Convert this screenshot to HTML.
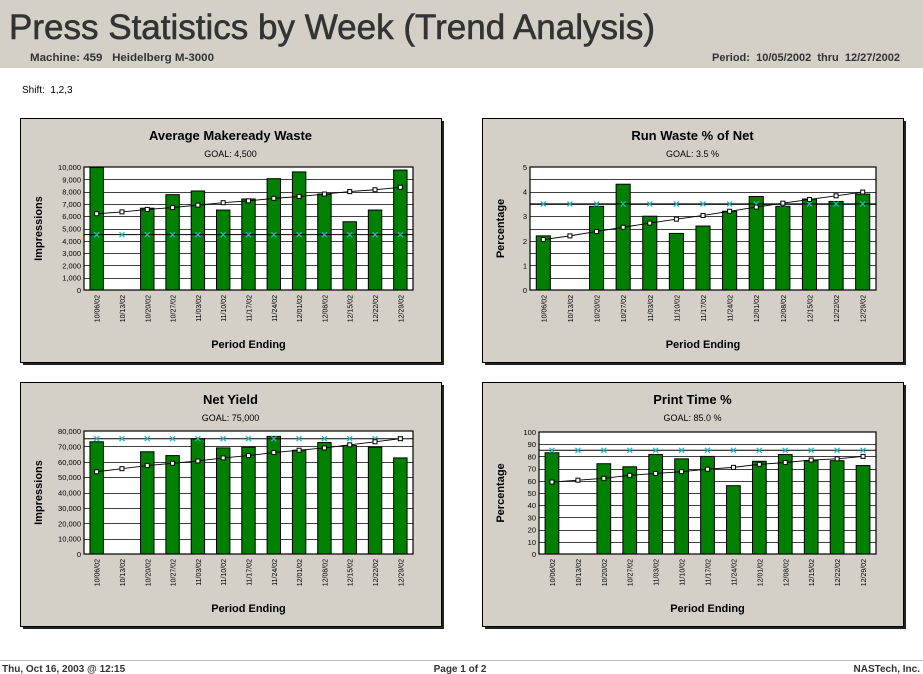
<!DOCTYPE html>
<html><head><meta charset="utf-8"><style>
body{margin:0;background:#fff;}
svg{display:block;font-family:"Liberation Sans",Arial,sans-serif;}
</style></head><body>
<svg id="page" width="923" height="674" viewBox="0 0 923 674" xmlns="http://www.w3.org/2000/svg">
<rect x="0" y="0" width="923" height="68" fill="#d4d0c8"/>
<text x="9" y="39" font-size="35" fill="#333" stroke="#333" stroke-width="0.6" textLength="646" lengthAdjust="spacingAndGlyphs">Press Statistics by Week (Trend Analysis)</text>
<text x="30" y="61" font-size="11" font-weight="bold" fill="#333" textLength="184" lengthAdjust="spacingAndGlyphs">Machine: 459 &#160;&#160;Heidelberg M-3000</text>
<text x="900" y="61" font-size="11" font-weight="bold" fill="#333" text-anchor="end" textLength="188" lengthAdjust="spacingAndGlyphs">Period: &#160;10/05/2002 &#160;thru &#160;12/27/2002</text>
<text x="22" y="93" font-size="10" fill="#000">Shift: &#160;1,2,3</text>
<line x1="0" y1="660.5" x2="923" y2="660.5" stroke="#bbb"/>
<text x="2" y="672" font-size="10" font-weight="bold" fill="#333">Thu, Oct 16, 2003 @ 12:15</text>
<text x="460" y="672" font-size="10" font-weight="bold" fill="#333" text-anchor="middle">Page 1 of 2</text>
<text x="920" y="672" font-size="10" font-weight="bold" fill="#333" text-anchor="end">NASTech, Inc.</text>
<g id="charts"></g>
</svg>
<script>
const categories = ["10/06/02","10/13/02","10/20/02","10/27/02","11/03/02","11/10/02","11/17/02","11/24/02","12/01/02","12/08/02","12/15/02","12/22/02","12/29/02"];
const makereadyBars = [9950,null,6650,7750,8050,6500,7400,9050,9600,7800,5550,6500,9750];
const makereadyTrend = [6200,6350,6550,6700,6900,7100,7250,7450,7600,7800,8000,8150,8350];
const makereadyGoal = 4500;
const makereadyTicks = ["0","1,000","2,000","3,000","4,000","5,000","6,000","7,000","8,000","9,000","10,000"];
const runWasteBars = [2.2,null,3.4,4.3,3.0,2.3,2.6,3.2,3.8,3.4,3.7,3.6,3.9];
const runWasteTrend = [2.05,2.2,2.38,2.55,2.72,2.88,3.03,3.2,3.37,3.53,3.68,3.83,3.98];
const runWasteGoal = 3.5;
const runWasteTicks = ["0","1","2","3","4","5"];
const netYieldBars = [73000,null,66500,64000,75000,69000,69500,76500,67500,72500,70500,69500,62500];
const netYieldTrend = [53500,55500,57500,59000,60500,62500,64000,66000,67500,69000,71000,73000,75000];
const netYieldGoal = 75000;
const netYieldTicks = ["0","10,000","20,000","30,000","40,000","50,000","60,000","70,000","80,000"];
const printTimeBars = [83,null,74,71.5,81.5,78,80,56,76,81.5,76.5,76.5,72.5];
const printTimeTrend = [59,60.5,62,64.5,66,67.5,69.5,71,73.5,75,77,78,80];
const printTimeGoal = 85;
const printTimeTicks = ["0","10","20","30","40","50","60","70","80","90","100"];

const NS="http://www.w3.org/2000/svg";
const root=document.getElementById('charts');
function mk(tag,attrs,parent){const e=document.createElementNS(NS,tag);for(const k in attrs)e.setAttribute(k,attrs[k]);(parent||root).appendChild(e);return e;}

function chart(cfg){
  const g=mk('g',{});
  
  
  const px=cfg.px,py=cfg.py,pw=421,ph=244;
  const sh=mk('rect',{x:px+3,y:py+3,width:pw,height:ph,fill:'#222'},g);
  
  
  const bg=mk('rect',{x:px+0.5,y:py+0.5,width:pw,height:ph,fill:'#d4d0c8',stroke:'#000'},g);
  
  
  const t=mk('text',{x:px+pw/2,y:py+22,'font-size':13,'font-weight':'bold','text-anchor':'middle'},g);t.textContent=cfg.title;
  
  
  const gl=mk('text',{x:px+pw/2,y:py+39,'font-size':9,'text-anchor':'middle'},g);gl.textContent=cfg.goalText;
  
  
  const L=cfg.left,R=cfg.right,T=cfg.top,B=cfg.bottom,max=cfg.max;
  const y=v=>B-(v/max)*(B-T);
  const n=categories.length,slot=(R-L)/n;
  const x=i=>L+slot*(i+0.5);
  const plot=mk('rect',{x:L,y:T,width:R-L,height:B-T,fill:'#fff'},g);
  
  
  for(let v=cfg.grid;v<max-1e-9;v+=cfg.grid){
    const ln=mk('line',{x1:L,x2:R,y1:Math.round(y(v))+0.5,y2:Math.round(y(v))+0.5,stroke:'#000','stroke-width':0.8},g);
    
    
  }
  const step=max/(cfg.ticks.length-1);
  cfg.ticks.forEach((lab,i)=>{
    const tt=mk('text',{x:L-3,y:y(i*step)+3,'font-size':7.5,'text-anchor':'end'},g);tt.textContent=lab;
    
    
  });
  cfg.bars.forEach((v,i)=>{
    if(v==null)return;
    const bw=slot*0.53;
    const r=mk('rect',{x:x(i)-bw/2,y:y(v),width:bw,height:B-y(v),fill:'#008000',stroke:'#000','stroke-width':1},g);
    
    
  });
  const goalLine=mk('line',{x1:L,x2:R,y1:y(cfg.goal),y2:y(cfg.goal),stroke:'#000','stroke-width':1},g);
  
  
  categories.forEach((c,i)=>{
    const cx=x(i),cy=y(cfg.goal);
    const m=mk('path',{d:`M${cx-2.5},${cy-2.5}L${cx+2.5},${cy+2.5}M${cx-2.5},${cy+2.5}L${cx+2.5},${cy-2.5}`,stroke:'#20b8c0','stroke-width':1.3},g);
    
    
  });
  const pts=cfg.trend.map((v,i)=>x(i)+','+y(v)).join(' ');
  const pl=mk('polyline',{points:pts,fill:'none',stroke:'#000','stroke-width':0.9},g);
  
  
  cfg.trend.forEach((v,i)=>{
    const p=mk('rect',{x:x(i)-2,y:y(v)-2,width:4,height:4,fill:'#fff',stroke:'#000','stroke-width':1},g);
    
    
  });
  const fr=mk('rect',{x:L,y:T,width:R-L,height:B-T,fill:'none',stroke:'#000','stroke-width':1.2},g);
  
  
  categories.forEach((c,i)=>{
    const tx=x(i)+3,ty=B+5;
    const tl=mk('text',{x:tx,y:ty,'font-size':7,'text-anchor':'end',transform:`rotate(-90 ${tx} ${ty})`},g);tl.textContent=c;
    
    
  });
  const xt=mk('text',{x:(L+R)/2,y:py+230,'font-size':11,'font-weight':'bold','text-anchor':'middle'},g);xt.textContent='Period Ending';
  
  
  const yx=px+22,yy=(T+B)/2;
  const yt=mk('text',{x:yx,y:yy,'font-size':11,'font-weight':'bold','text-anchor':'middle',transform:`rotate(-90 ${yx} ${yy})`},g);yt.textContent=cfg.yTitle;
  
  
}
chart({name:'makeready-waste-chart',px:20,py:118,title:'Average Makeready Waste',goalText:'GOAL: 4,500',left:84,right:413,top:167,bottom:290,max:10000,grid:1000,ticks:makereadyTicks,bars:makereadyBars,trend:makereadyTrend,goal:makereadyGoal,yTitle:'Impressions'});
chart({name:'run-waste-chart',px:482,py:118,title:'Run Waste % of Net',goalText:'GOAL: 3.5 %',left:530,right:876,top:167,bottom:290,max:5,grid:0.5,ticks:runWasteTicks,bars:runWasteBars,trend:runWasteTrend,goal:runWasteGoal,yTitle:'Percentage'});
chart({name:'net-yield-chart',px:20,py:382,title:'Net Yield',goalText:'GOAL: 75,000',left:84,right:413,top:431,bottom:554,max:80000,grid:10000,ticks:netYieldTicks,bars:netYieldBars,trend:netYieldTrend,goal:netYieldGoal,yTitle:'Impressions'});
chart({name:'print-time-chart',px:482,py:382,title:'Print Time %',goalText:'GOAL: 85.0 %',left:539,right:876,top:432,bottom:554,max:100,grid:10,ticks:printTimeTicks,bars:printTimeBars,trend:printTimeTrend,goal:printTimeGoal,yTitle:'Percentage'});
</script>
</body></html>
